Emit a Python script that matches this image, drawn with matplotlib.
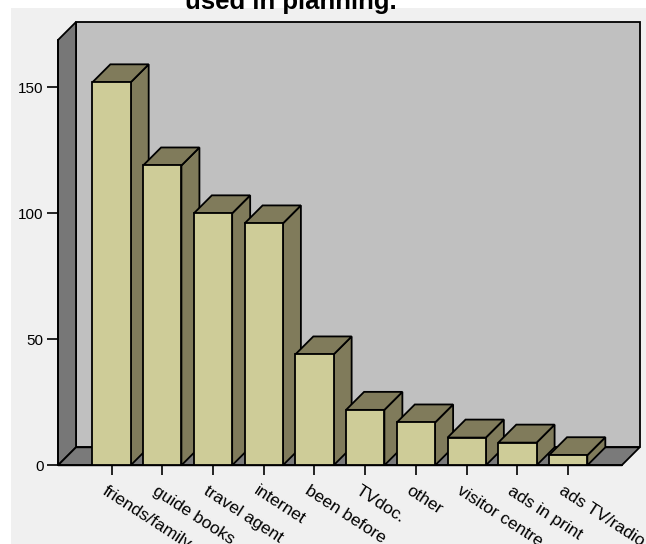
import matplotlib
matplotlib.use('Agg')
import matplotlib.pyplot as plt
from matplotlib.patches import Polygon, Rectangle
import matplotlib.transforms as mtransforms

categories = ['friends/family', 'guide books', 'travel agent', 'internet',
              'been before', 'TVdoc.', 'other', 'visitor centre',
              'ads in print', 'ads TV/radio']
counts = [152, 119, 100, 96, 44, 22, 17, 11, 9, 4]
yticks = [0, 50, 100, 150]
title_text = 'used in planning.'

plt.rcParams['font.family'] = ['Liberation Sans', 'DejaVu Sans']

W, H, DPI = 646, 544, 100
fig = plt.figure(figsize=(W / DPI, H / DPI), dpi=DPI)
fig.patch.set_facecolor('white')
fig.patches.append(Rectangle((11 / W, 0), 1 - 11 / W, 1 - 8 / H,
                             transform=fig.transFigure, facecolor='#f0f0f0',
                             edgecolor='none', zorder=-10))

left_px, right_px, bot_px, top_px = 58, 621.7, 465.3, 40
ax = fig.add_axes([left_px / W, 1 - bot_px / H,
                   (right_px - left_px) / W, (bot_px - top_px) / H])
ax.set_zorder(1)
ax.set_facecolor('none')
n = len(categories)
m = 1.055
xmin, xmax = -m, n - 1 + m
ymin, ymax = 0, 168.8
ax.set_xlim(xmin, xmax)
ax.set_ylim(ymin, ymax)

# depth offset (pixels) converted into data units
depth_px = 18
ddx = depth_px / (right_px - left_px) * (xmax - xmin)
ddy = depth_px / (bot_px - top_px) * (ymax - ymin)

front_col = '#cecc98'
shade_col = '#807b5b'
wall_col = '#777777'
floor_col = '#7a7a7a'
back_col = '#c0c0c0'
lw = 1.3

# back wall
ax.add_patch(Polygon([(xmin + ddx, ddy), (xmax + ddx, ddy), (xmax + ddx, ymax + ddy),
                      (xmin + ddx, ymax + ddy)], closed=True, facecolor=back_col,
                     edgecolor='black', lw=lw, clip_on=False, zorder=0.5))
# left wall
ax.add_patch(Polygon([(xmin, 0), (xmin + ddx, ddy), (xmin + ddx, ymax + ddy), (xmin, ymax)],
                     closed=True, facecolor=wall_col, edgecolor='black', lw=lw,
                     clip_on=False, zorder=0.6))
# floor
ax.add_patch(Polygon([(xmin, 0), (xmax, 0), (xmax + ddx, ddy), (xmin + ddx, ddy)],
                     closed=True, facecolor=floor_col, edgecolor='black', lw=lw,
                     clip_on=False, zorder=0.7))

bw = 0.755
bars = ax.bar(range(n), counts, width=bw, color=front_col, edgecolor='black', lw=lw)
for i, (b, v) in enumerate(zip(bars, counts)):
    x0, x1 = i - bw / 2, i + bw / 2
    z = 2 + i * 0.01
    ax.add_patch(Polygon([(x1, 0), (x1 + ddx, ddy), (x1 + ddx, v + ddy), (x1, v)],
                         closed=True, facecolor=shade_col, edgecolor='black', lw=lw,
                         clip_on=False, zorder=z))
    ax.add_patch(Polygon([(x0, v), (x1, v), (x1 + ddx, v + ddy), (x0 + ddx, v + ddy)],
                         closed=True, facecolor=shade_col, edgecolor='black', lw=lw,
                         clip_on=False, zorder=z))
    b.set_zorder(z + 0.005)
    b.set_clip_on(False)

for s in ['top', 'right']:
    ax.spines[s].set_visible(False)
for s in ['left', 'bottom']:
    ax.spines[s].set_color('black')
    ax.spines[s].set_linewidth(lw)
    ax.spines[s].set_zorder(1)

ax.set_yticks(yticks)
ax.set_yticklabels([str(t) for t in yticks])
ax.tick_params(axis='y', length=8, width=1.2, pad=2.5, labelsize=11, colors='black')
ax.set_xticks(range(n))
ax.set_xticklabels(categories, rotation=-33, ha='left', va='top', rotation_mode='anchor')
ax.tick_params(axis='x', length=7, width=1.2, pad=6, labelsize=12.5, colors='black')
shift = mtransforms.ScaledTranslation(-4 / DPI, 0, fig.dpi_scale_trans)
for lbl in ax.get_xticklabels():
    lbl.set_transform(lbl.get_transform() + shift)

fig.text(291 / W, 1 - 9 / H, title_text, ha='center', va='baseline',
         fontsize=18.5, fontweight='bold', color='black', zorder=5)

fig.savefig('out.png', dpi=DPI)
